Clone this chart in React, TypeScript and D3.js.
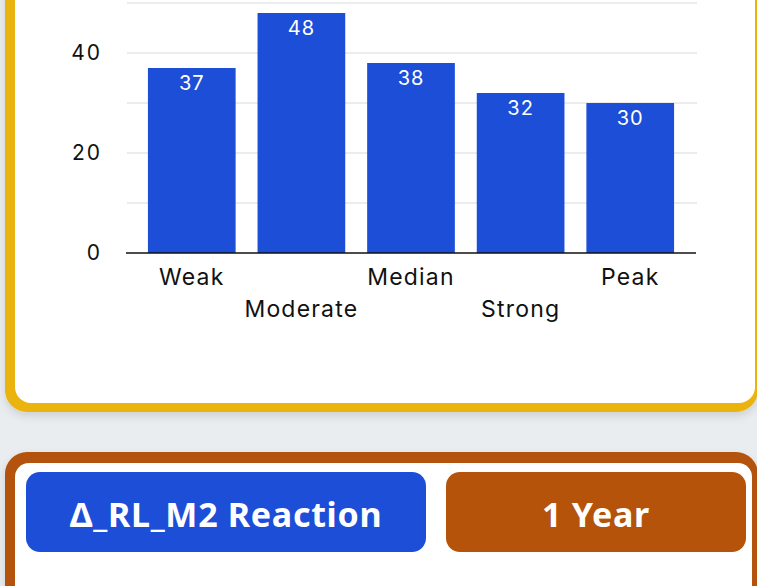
import React, { useEffect, useRef } from 'react';
import * as d3 from 'd3';

const CATEGORIES = ['Weak', 'Moderate', 'Median', 'Strong', 'Peak'];
const VALUES = [37, 48, 38, 32, 30];
const Y_TICKS = [0, 20, 40];
const GRID_TICKS = [10, 20, 30, 40, 50];
const BUTTON_LABELS = ['Δ_RL_M2 Reaction', '1 Year'];

export default function App() {
    const svgRef = useRef<SVGSVGElement>(null);

    useEffect(() => {
        if (!svgRef.current) return;
        const width = 757;
        const height = 586;
        const svg = d3.select(svgRef.current);
        svg.selectAll('*').remove();
        svg.attr('viewBox', `0 0 ${width} ${height}`);

        const chartFont = 'Inter, "Open Sans", sans-serif';
        const btnFont = '"Noto Sans", "Open Sans", sans-serif';

        // page background
        svg.append('rect').attr('width', width).attr('height', height).attr('fill', '#e9edf0');

        const defs = svg.append('defs');
        const shadow = defs.append('filter').attr('id', 'cardShadow')
            .attr('x', '-10%').attr('y', '-10%').attr('width', '120%').attr('height', '130%');
        shadow.append('feDropShadow')
            .attr('dx', 0).attr('dy', 4).attr('stdDeviation', 4)
            .attr('flood-color', '#000').attr('flood-opacity', 0.12);

        // Card 1 (yellow framed, chart)
        const card1 = svg.append('g');
        card1.append('rect')
            .attr('x', 5).attr('y', -60).attr('width', 753).attr('height', 472)
            .attr('rx', 22).attr('fill', '#eab308')
            .attr('filter', 'url(#cardShadow)');
        card1.append('rect')
            .attr('x', 15).attr('y', -60).attr('width', 740).attr('height', 463)
            .attr('rx', 16).attr('fill', '#ffffff');

        // Card 2 (brown framed, buttons)
        const card2 = svg.append('g');
        card2.append('rect')
            .attr('x', 5).attr('y', 452).attr('width', 753).attr('height', 200)
            .attr('rx', 22).attr('fill', '#b45309')
            .attr('filter', 'url(#cardShadow)');
        card2.append('rect')
            .attr('x', 15).attr('y', 463).attr('width', 737).attr('height', 200)
            .attr('rx', 14).attr('fill', '#ffffff');

        // Chart
        const x = d3.scaleBand<string>()
            .domain(CATEGORIES)
            .range([126, 696])
            .paddingInner(0.2)
            .paddingOuter(0.2);
        const y = d3.scaleLinear().domain([0, 50]).range([253, 3]);

        const chart = svg.append('g');

        chart.append('g').selectAll('line')
            .data(GRID_TICKS)
            .join('line')
            .attr('x1', 127).attr('x2', 697)
            .attr('y1', d => y(d)).attr('y2', d => y(d))
            .attr('stroke', '#e6e6e6').attr('stroke-width', 1.5);

        chart.append('g').selectAll('text')
            .data(Y_TICKS)
            .join('text')
            .attr('x', 102)
            .attr('y', d => y(d))
            .attr('dy', '0.35em')
            .attr('text-anchor', 'end')
            .style('font-family', chartFont)
            .style('font-size', '21px')
            .style('letter-spacing', '2px')
            .attr('fill', '#111')
            .text(d => d);

        chart.append('g').selectAll('rect')
            .data(VALUES)
            .join('rect')
            .attr('x', (d, i) => x(CATEGORIES[i])!)
            .attr('width', x.bandwidth())
            .attr('y', d => y(d))
            .attr('height', d => y(0) - y(d))
            .attr('fill', '#1d4ed8');

        chart.append('g').selectAll('text')
            .data(VALUES)
            .join('text')
            .attr('x', (d, i) => x(CATEGORIES[i])! + x.bandwidth() / 2)
            .attr('y', d => y(d) + 22)
            .attr('text-anchor', 'middle')
            .style('font-family', chartFont)
            .style('font-size', '20px')
            .style('letter-spacing', '1px')
            .attr('fill', '#ffffff')
            .text(d => d);

        chart.append('line')
            .attr('x1', 126).attr('x2', 696)
            .attr('y1', y(0)).attr('y2', y(0))
            .attr('stroke', '#111').attr('stroke-width', 1.6);

        // staggered category labels
        chart.append('g').selectAll('text')
            .data(CATEGORIES)
            .join('text')
            .attr('x', d => x(d)! + x.bandwidth() / 2)
            .attr('y', (d, i) => (i % 2 === 0 ? 285 : 317))
            .attr('text-anchor', 'middle')
            .style('font-family', chartFont)
            .style('font-size', '23px')
            .style('letter-spacing', '1.2px')
            .attr('fill', '#111')
            .text(d => d);

        // Buttons
        const buttons = [
            { label: BUTTON_LABELS[0], x: 26, w: 400, fill: '#1d4ed8' },
            { label: BUTTON_LABELS[1], x: 446, w: 300, fill: '#b45309' },
        ];
        const btn = svg.append('g').selectAll('g')
            .data(buttons)
            .join('g');
        btn.append('rect')
            .attr('x', d => d.x).attr('y', 472)
            .attr('width', d => d.w).attr('height', 80)
            .attr('rx', 14)
            .attr('fill', d => d.fill);
        btn.append('text')
            .attr('x', d => d.x + d.w / 2)
            .attr('y', 527)
            .attr('text-anchor', 'middle')
            .style('font-family', btnFont)
            .style('font-size', '34px')
            .style('font-weight', 700)
            .style('letter-spacing', '0.7px')
            .attr('fill', '#ffffff')
            .text(d => d.label);
    }, []);

    return (
        <svg
            ref={svgRef}
            width={757}
            height={586}
            style={{ position: 'fixed', left: 0, top: 0, display: 'block' }}
        />
    );
}
